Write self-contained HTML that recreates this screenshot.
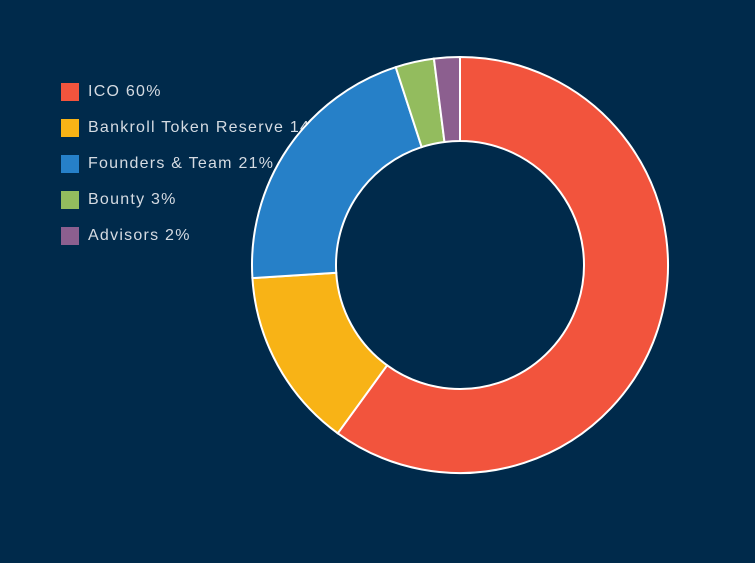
<!DOCTYPE html>
<html><head><meta charset="utf-8"><style>
html,body{margin:0;padding:0;background:#002a4b;}
.wrap{position:relative;width:755px;height:563px;overflow:hidden;background:#002a4b;font-family:"Liberation Sans",sans-serif;}
.lg{position:absolute;left:61px;height:18px;line-height:18px;color:#d5dbe2;font-size:16px;letter-spacing:1.25px;white-space:nowrap;}
.lg i{display:inline-block;width:18px;height:18px;vertical-align:top;margin-right:9px;}
svg{position:absolute;left:0;top:0;}
</style></head><body><div class="wrap">
<div class="lg" style="top:83px"><i style="background:#f2543d"></i>ICO 60%</div>
<div class="lg" style="top:119px"><i style="background:#f8b316"></i>Bankroll Token Reserve 14%</div>
<div class="lg" style="top:155px"><i style="background:#2680c8"></i>Founders &amp; Team 21%</div>
<div class="lg" style="top:191px"><i style="background:#93bc5e"></i>Bounty 3%</div>
<div class="lg" style="top:227px"><i style="background:#8c5f8f"></i>Advisors 2%</div>
<svg width="755" height="563" id="s"></svg>
<script>
var cx=460,cy=265,R=208,r=124;
var d=[[60,"#f2543d"],[14,"#f8b316"],[21,"#2680c8"],[3,"#93bc5e"],[2,"#8c5f8f"]];
var a=0,h="";
function p(rad,ang){return (cx+rad*Math.sin(ang)).toFixed(2)+","+(cy-rad*Math.cos(ang)).toFixed(2);}
d.forEach(function(e){var b=a+e[0]/100*2*Math.PI;var l=(b-a)>Math.PI?1:0;
h+='<path d="M'+p(R,a)+' A'+R+','+R+' 0 '+l+' 1 '+p(R,b)+' L'+p(r,b)+' A'+r+','+r+' 0 '+l+' 0 '+p(r,a)+' Z" fill="'+e[1]+'" stroke="#fff" stroke-width="2"/>';a=b;});
document.getElementById("s").innerHTML=h;
</script>
</div></body></html>
